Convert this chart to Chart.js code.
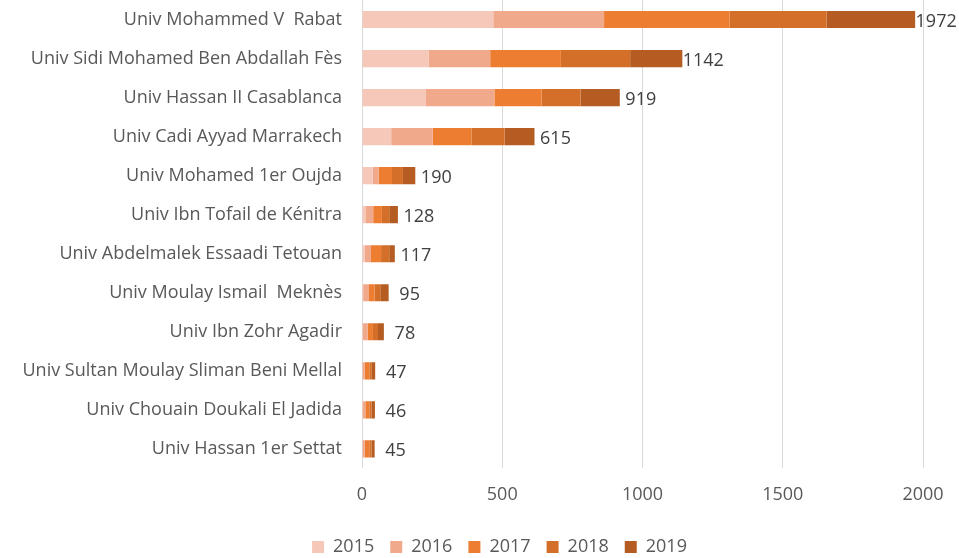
<!DOCTYPE html>
<html>
<head>
<meta charset="utf-8">
<script src="https://cdn.jsdelivr.net/npm/chart.js@4/dist/chart.umd.min.js"></script>
<style>
  html, body { margin: 0; padding: 0; background: #fff; }
  #wrap { width: 959px; height: 558px; position: relative; }
</style>
</head>
<body>
<div id="wrap"><canvas id="uniChart"></canvas></div>
<script>
var universities = [
    "Univ Mohammed V  Rabat",
    "Univ Sidi Mohamed Ben Abdallah Fès",
    "Univ Hassan II Casablanca",
    "Univ Cadi Ayyad Marrakech",
    "Univ Mohamed 1er Oujda",
    "Univ Ibn Tofail de Kénitra",
    "Univ Abdelmalek Essaadi Tetouan",
    "Univ Moulay Ismail  Meknès",
    "Univ Ibn Zohr Agadir",
    "Univ Sultan Moulay Sliman Beni Mellal",
    "Univ Chouain Doukali El Jadida",
    "Univ Hassan 1er Settat"
];
var years = ["2015", "2016", "2017", "2018", "2019"];

// values, per year
var v2015 = [468, 237, 226, 104, 38, 12, 10, 4, 3, 2, 3, 2];
var v2016 = [395, 220, 246, 148, 21, 28, 22, 21, 17, 8, 9, 8];
var v2017 = [447, 252, 168, 138, 48, 31, 36, 20, 19, 16, 14, 16];
var v2018 = [346, 247, 139, 118, 39, 26, 29, 20, 18, 9, 8, 8];
var v2019 = [316, 186, 140, 107, 44, 31, 20, 30, 21, 12, 12, 11];
var totals = [1972, 1142, 919, 615, 190, 128, 117, 95, 78, 47, 46, 45];

var xTicks = [0, 500, 1000, 1500, 2000];

var colors = ["#F5C8B9", "#F1A98C", "#ED7D31", "#D46F2A", "#B45C21"];
var series = [v2015, v2016, v2017, v2018, v2019];

var textColor = "#595959";
var fontFamily = "'Open Sans', sans-serif";

// totals written just past the end of each bar
var totalLabels = {
    id: "totalLabels",
    afterDatasetsDraw: function (chart) {
        var ctx = chart.ctx;
        var xs = chart.scales.x;
        var lastMeta = chart.getDatasetMeta(series.length - 1);
        ctx.save();
        ctx.font = "18px " + fontFamily;
        ctx.fillStyle = "#404040";
        ctx.textAlign = "center";
        ctx.textBaseline = "middle";
        totals.forEach(function (t, i) {
            var bar = lastMeta.data[i];
            var x = xs.getPixelForValue(t);
            ctx.fillText(String(t), x + 21, bar.y + 2);
        });
        ctx.restore();
    }
};

// nudge the legend a bit right, like the original
var legendShift = {
    id: "legendShift",
    afterLayout: function (chart) {
        if (chart.legend) {
            chart.legend.left += 20;
            chart.legend.right += 20;
        }
    }
};

var ctx = document.getElementById("uniChart").getContext("2d");
new Chart(ctx, {
    type: "bar",
    data: {
        labels: universities,
        datasets: years.map(function (y, i) {
            return {
                label: y,
                data: series[i],
                backgroundColor: colors[i],
                borderWidth: 0,
                barPercentage: 0.44,
                categoryPercentage: 1.0
            };
        })
    },
    options: {
        indexAxis: "y",
        responsive: true,
        maintainAspectRatio: false,
        animation: false,
        layout: { padding: { left: 0, right: 0, top: 0, bottom: -8 } },
        scales: {
            x: {
                stacked: true,
                min: 0,
                max: 2000,
                afterBuildTicks: function (s) {
                    s.ticks = xTicks.map(function (v) { return { value: v }; });
                },
                afterFit: function (s) {
                    s.paddingLeft = 0;
                    s.paddingRight = 36;
                },
                grid: { color: "#D9D9D9", lineWidth: 1, drawTicks: false },
                border: { display: false },
                ticks: {
                    color: textColor,
                    padding: 16,
                    font: { size: 18, family: fontFamily },
                    callback: function (v) { return String(v); }
                }
            },
            y: {
                stacked: true,
                afterFit: function (s) {
                    s.width = 362;
                    s.paddingTop = 0;
                    s.paddingBottom = 0;
                },
                grid: { display: false, drawTicks: false },
                border: { display: false },
                ticks: {
                    color: textColor,
                    padding: 20,
                    font: { size: 18, family: fontFamily }
                }
            }
        },
        plugins: {
            legend: {
                position: "bottom",
                labels: {
                    color: textColor,
                    boxWidth: 12,
                    boxHeight: 12,
                    padding: 16,
                    font: { size: 18, family: fontFamily }
                }
            },
            tooltip: { enabled: false }
        }
    },
    plugins: [totalLabels, legendShift]
});
</script>
</body>
</html>
